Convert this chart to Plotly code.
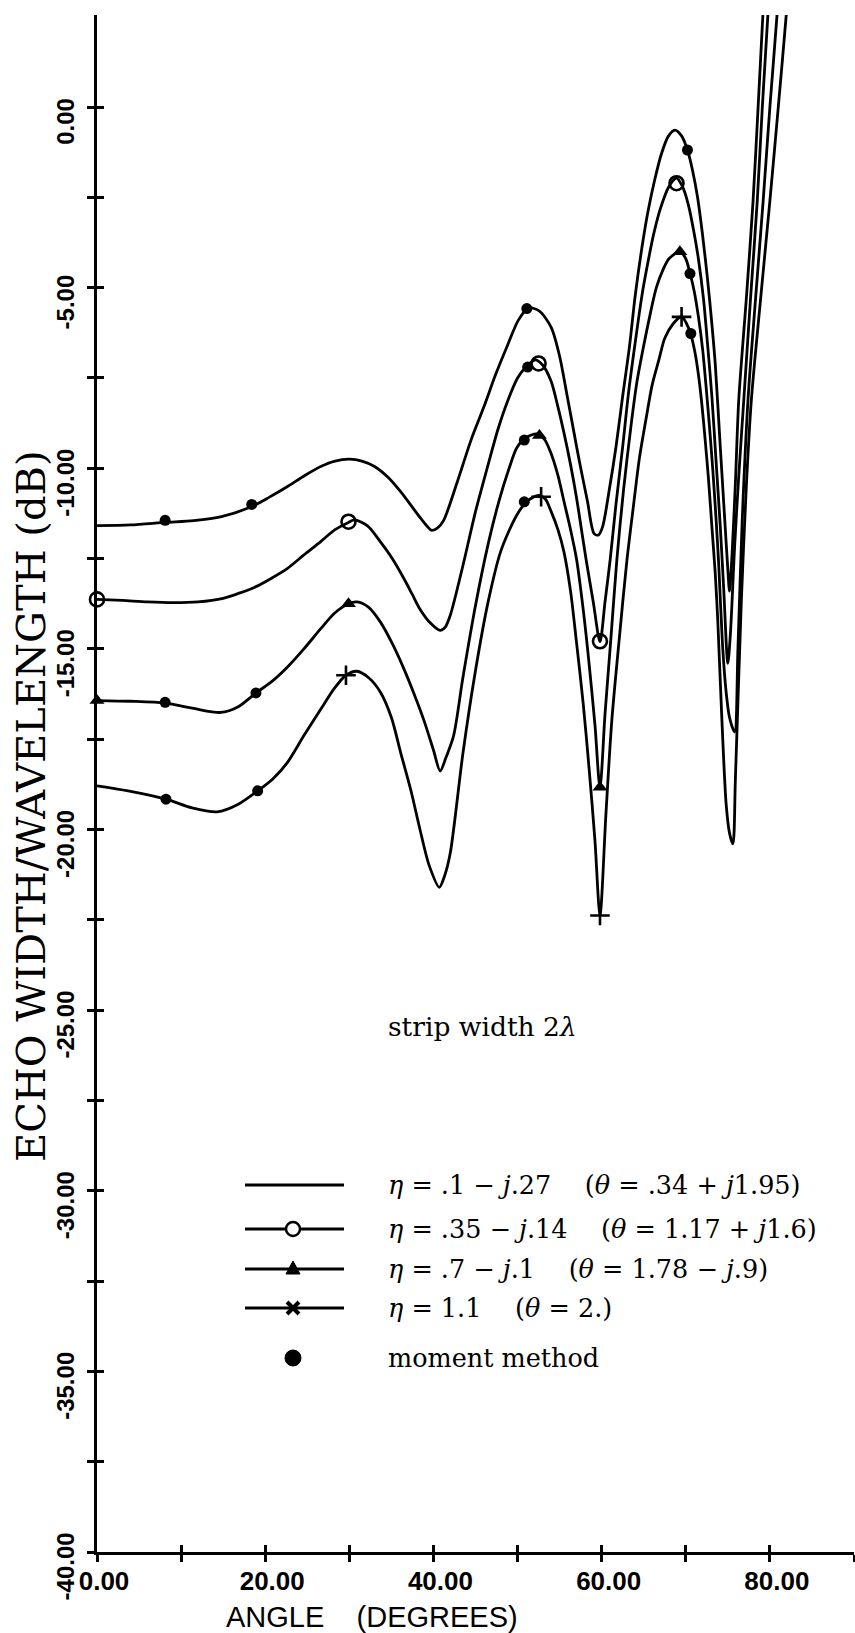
import plotly.graph_objects as go

# ---------------- data (angle in degrees, echo width in dB) ----------------
c1_deg = [0, 4, 8.1, 11.5, 14.8, 18.4, 20.5, 22.7, 24.7, 26.6, 28.3, 30, 31.5, 33, 34.6, 36.1, 37.4,
          38.5, 39.3, 39.8, 40.5, 41.2, 42.8, 44.5, 46.0, 47.4, 48.8, 50.1, 51.3, 52.6, 54.0, 55.0,
          55.9, 56.7, 57.4, 58.3, 59.1, 59.6, 60.1, 60.9, 61.7, 62.5, 63.3, 64.0, 64.8, 65.5, 66.3,
          67.1, 67.9, 68.7, 69.5, 70.2, 70.8, 71.4, 72.0, 72.6, 73.1, 73.5, 74.1, 74.6, 75.0, 75.2,
          75.5, 75.9, 76.3, 77.2, 78.0, 78.6, 79.2, 79.6]
c1_db = [-11.59, -11.57, -11.5, -11.45, -11.34, -11.06, -10.8, -10.5, -10.2, -9.95, -9.8, -9.75, -9.8,
         -9.95, -10.25, -10.65, -11.05, -11.39, -11.62, -11.72, -11.65, -11.45, -10.4, -9.2, -8.3, -7.4,
         -6.6, -5.9, -5.56, -5.65, -6.1, -6.9, -8.0, -9.0, -9.87, -10.9, -11.81, -11.85, -11.63, -10.6,
         -9.41, -8.0, -6.64, -5.2, -3.87, -2.9, -2.02, -1.3, -0.82, -0.64, -0.8, -1.19, -1.75, -2.5,
         -3.55, -4.8, -6.0, -7.1, -9.4, -11.3, -12.8, -13.4, -12.4, -10.4, -8.1, -5.3, -2.6, 0.0, 2.7, 4.5]

c2_deg = [0, 3, 6, 9, 12, 15, 17, 18.7, 20.7, 22.65, 24.6, 26.6, 28.3, 29.9, 30.6, 32.2, 33.7, 35.1,
          36.5, 37.5, 38.4, 39.7, 40.8, 41.4, 42.0, 43.5, 45.0, 46.5, 47.7, 48.8, 50.0, 51.0, 52.1,
          53.0, 54.0, 54.8, 55.5, 56.3, 57.0, 57.6, 58.2, 59.0, 59.8, 60.4, 61.0, 61.7, 62.5, 63.2,
          64.0, 64.8, 65.5, 66.2, 67.0, 68.0, 68.9, 69.6, 70.3, 71.0, 71.5, 72.1, 72.6, 73.1, 73.6,
          74.1, 74.5, 75.0, 75.3, 75.8, 76.3, 76.9, 77.7, 78.5, 79.1, 79.8, 80.2]
c2_db = [-13.63, -13.66, -13.7, -13.72, -13.7, -13.6, -13.45, -13.3, -13.05, -12.77, -12.4, -12.03,
         -11.7, -11.5, -11.43, -11.6, -12.04, -12.5, -13.06, -13.5, -13.9, -14.3, -14.49, -14.4, -14.07,
         -12.7, -11.2, -9.9, -8.9, -8.15, -7.5, -7.2, -7.0, -7.15, -7.6, -8.3, -9.0, -9.9, -10.8, -11.7,
         -12.6, -13.7, -14.8, -13.7, -12.55, -11.0, -9.4, -7.9, -6.5, -5.2, -4.3, -3.5, -2.8, -2.2,
         -1.97, -2.2, -2.7, -3.5, -4.2, -5.3, -6.6, -8.0, -9.8, -11.6, -13.3, -15.4, -14.6, -12.2,
         -10.2, -8.1, -5.3, -2.6, 0.0, 2.7, 4.5]

c3_deg = [0, 4, 8.1, 11.5, 14.7, 16.8, 18.9, 20.8, 22.65, 24.6, 26.6, 28.3, 29.9, 30.9, 32.3, 33.7,
          35.1, 36.5, 37.7, 38.9, 40.0, 40.8, 41.5, 42.4, 43.5, 45.0, 46.5, 47.8, 49.0, 49.9, 51.0,
          52.3, 53.2, 54.0, 54.8, 55.5, 56.3, 57.0, 57.8, 58.5, 59.2, 59.8, 60.4, 61.1, 61.8, 62.6,
          63.5, 64.2, 65.0, 65.8, 66.5, 67.3, 68.0, 69.3, 70.0, 70.5, 71.0, 71.5, 72.0, 72.4, 72.8,
          73.2, 73.6, 73.9, 74.4, 74.8, 75.2, 75.8, 76.2, 76.7, 77.4, 78.3, 79.2, 80.0, 80.9, 81.4]
c3_db = [-16.43, -16.45, -16.5, -16.65, -16.76, -16.6, -16.22, -15.9, -15.5, -15.0, -14.44, -14.0,
         -13.75, -13.7, -13.85, -14.26, -14.85, -15.56, -16.25, -17.0, -17.8, -18.38, -18.0, -17.4,
         -15.8, -13.8, -12.1, -10.9, -10.0, -9.44, -9.15, -9.05, -9.2, -9.6, -10.2, -10.9, -11.7, -12.5,
         -13.9, -15.4, -17.1, -18.83, -16.8, -14.7, -12.55, -10.6, -8.8, -7.6, -6.6, -5.7, -5.0, -4.5,
         -4.2, -4.0, -4.2, -4.6, -5.1, -5.8, -6.7, -7.7, -8.8, -10.0, -11.4, -12.6, -15.0, -16.2,
         -16.9, -17.3, -15.0, -11.5, -8.1, -5.3, -2.6, 0.0, 2.7, 4.5]

c4_deg = [0, 3.7, 8.2, 11.3, 14.3, 16.8, 19.1, 20.9, 22.65, 24.6, 26.6, 28.2, 29.6, 30.9, 32.3, 33.7,
          35.0, 36.1, 37.3, 38.4, 39.5, 40.7, 41.3, 42.0, 43.5, 45.0, 46.5, 48.0, 49.9, 51.2, 52.5,
          53.3, 54.0, 54.8, 55.5, 56.3, 57.0, 57.8, 58.5, 59.2, 59.8, 60.5, 61.2, 62.1, 63.0, 63.8,
          64.5, 65.3, 66.0, 66.8, 67.5, 68.5, 69.5, 70.1, 70.6, 71.1, 71.5, 71.9, 72.3, 72.7, 73.1,
          73.5, 73.8, 74.3, 74.8, 75.2, 75.6, 75.9, 76.6, 77.2, 77.8, 78.9, 80.0, 81.0, 82.0, 82.6]
c4_db = [-18.79, -18.93, -19.16, -19.4, -19.51, -19.3, -18.93, -18.6, -18.14, -17.4, -16.67, -16.1,
         -15.73, -15.62, -15.8, -16.2, -16.9, -17.87, -18.9, -20.0, -21.0, -21.6, -21.3, -20.65,
         -17.9, -15.6, -13.7, -12.3, -11.3, -10.9, -10.75, -10.85, -11.2, -11.7, -12.3, -13.4, -14.8,
         -16.5, -18.3, -20.3, -22.38, -19.6, -17.0, -14.7, -12.55, -11.0, -9.7, -8.6, -7.7, -7.0, -6.4,
         -6.0, -5.8, -6.0, -6.3, -6.8, -7.4, -8.2, -9.2, -10.3, -11.6, -12.9, -14.2, -17.0, -19.3,
         -20.1, -20.4, -18.6, -13.7, -10.5, -8.1, -5.3, -2.6, 0.0, 2.7, 4.5]

# symbols placed on the curves
c2_mk_deg = [0, 29.9, 52.5, 59.8, 68.9]
c2_mk_db = [-13.63, -11.48, -7.1, -14.79, -2.11]
c3_mk_deg = [0, 29.9, 52.6, 59.8, 69.3]
c3_mk_db = [-16.43, -13.75, -9.09, -18.83, -4.01]
c4_mk_deg = [29.6, 52.8, 59.8, 69.5]
c4_mk_db = [-15.73, -10.79, -22.38, -5.81]

# moment method results
mm_deg = [8.1, 18.4, 51.1, 70.2, 51.2, 8.1, 18.9, 50.8, 70.5, 8.2, 19.1, 50.8, 70.6]
mm_db = [-11.44, -11.0, -5.58, -1.19, -7.2, -16.48, -16.22, -9.22, -4.61, -19.16, -18.93, -10.93, -6.27]

x_tickvals = [0, 10, 20, 30, 40, 50, 60, 70, 80, 90]
x_ticktext = ['0.00', '', '20.00', '', '40.00', '', '60.00', '', '80.00', '']
y_tickvals = [0, -2.5, -5, -7.5, -10, -12.5, -15, -17.5, -20, -22.5, -25, -27.5, -30, -32.5, -35,
              -37.5, -40]
y_ticktext = ['0.00', '', '-5.00', '', '-10.00', '', '-15.00', '', '-20.00', '', '-25.00', '',
              '-30.00', '', '-35.00', '', '-40.00']

legend_labels = [
    '<i>η</i> = .1 − <i>j</i>.27\u2003 (<i>θ</i> = .34 + <i>j</i>1.95)',
    '<i>η</i> = .35 − <i>j</i>.14\u2003 (<i>θ</i> = 1.17 + <i>j</i>1.6)',
    '<i>η</i> = .7 − <i>j</i>.1\u2003 (<i>θ</i> = 1.78 − <i>j</i>.9)',
    '<i>η</i> = 1.1\u2003 (<i>θ</i> = 2.)',
    'moment method',
]

# ---------------- layout geometry ----------------
W, H = 855, 1633
ML, MR, MT, MB = 97, 1, 15, 81
PW, PH = W - ML - MR, H - MT - MB
X_RANGE = [0, 90]
Y_RANGE = [-40, 92 / 36.125]


def px(x):
    return (x - ML) / PW


def py(y):
    return (H - MB - y) / PH


SANS = 'Liberation Sans, Arial, sans-serif'
SERIF = 'DejaVu Serif, Liberation Serif, serif'

fig = go.Figure()

for d, v in [(c1_deg, c1_db), (c2_deg, c2_db), (c3_deg, c3_db), (c4_deg, c4_db)]:
    fig.add_trace(go.Scatter(x=d, y=v, mode='lines', showlegend=False, hoverinfo='skip',
                             line=dict(color='black', width=2.8, shape='spline', smoothing=0.8)))

fig.add_trace(go.Scatter(x=c2_mk_deg, y=c2_mk_db, mode='markers', showlegend=False, cliponaxis=False,
                         marker=dict(symbol='circle-open', size=14, color='black',
                                     line=dict(width=2.6, color='black'))))
fig.add_trace(go.Scatter(x=c3_mk_deg, y=c3_mk_db, mode='markers', showlegend=False, cliponaxis=False,
                         marker=dict(symbol='triangle-up', size=13, color='black')))
fig.add_trace(go.Scatter(x=c4_mk_deg, y=c4_mk_db, mode='markers', showlegend=False, cliponaxis=False,
                         marker=dict(symbol='cross-thin-open', size=14, color='black',
                                     line=dict(width=2.6, color='black'))))
fig.add_trace(go.Scatter(x=mm_deg, y=mm_db, mode='markers', showlegend=False, cliponaxis=False,
                         marker=dict(symbol='circle', size=11, color='black')))

# overlay axes carrying the inward half of the crossing tick marks
fig.add_trace(go.Scatter(x=c1_deg, y=c1_db, xaxis='x2', yaxis='y2', mode='lines', opacity=0,
                         showlegend=False, hoverinfo='skip'))

axis_common = dict(showgrid=False, zeroline=False, ticklen=7, tickwidth=2.5, tickcolor='black')
fig.update_layout(
    width=W, height=H,
    margin=dict(l=ML, r=MR, t=MT, b=MB, pad=0),
    paper_bgcolor='white', plot_bgcolor='white',
    showlegend=False,
    xaxis=dict(range=X_RANGE, tickmode='array', tickvals=x_tickvals, ticktext=x_ticktext,
               ticks='outside', showline=True, linewidth=3, linecolor='black',
               ticklabelstandoff=-3, ticklabelshift=7,
               tickfont=dict(family=SANS, size=26, color='black', weight='bold'),
               **axis_common),
    yaxis=dict(range=Y_RANGE, tickmode='array', tickvals=y_tickvals, ticktext=y_ticktext,
               ticks='outside', showline=True, linewidth=3, linecolor='black', tickangle=-90,
               ticklabelstandoff=3, ticklabelshift=18,
               tickfont=dict(family=SANS, size=24, color='black', weight='bold'),
               **axis_common),
    xaxis2=dict(range=X_RANGE, overlaying='x', anchor='y2', tickmode='array', tickvals=x_tickvals,
                ticks='inside', showticklabels=False, showline=False, **axis_common),
    yaxis2=dict(range=Y_RANGE, overlaying='y', anchor='x2', tickmode='array', tickvals=y_tickvals,
                ticks='inside', showticklabels=False, showline=False, **axis_common),
)

annotations = [
    dict(text='ANGLE\u00a0\u00a0\u00a0\u00a0(DEGREES)', x=px(372), y=py(1617), xref='paper',
         yref='paper', showarrow=False, xanchor='center', yanchor='middle',
         font=dict(family=SANS, size=29, color='black')),
    dict(text='ECHO WIDTH/WAVELENGTH (dB)', x=px(31), y=py(806), xref='paper', yref='paper',
         showarrow=False, textangle=-90, xanchor='center', yanchor='middle',
         font=dict(family=SERIF, size=40, color='black')),
    dict(text='strip width 2<i>λ</i>', x=px(482), y=py(1026), xref='paper', yref='paper',
         showarrow=False, xanchor='center', yanchor='middle',
         font=dict(family=SERIF, size=26.5, color='black')),
]

# legend (drawn as a key block inside the plot area)
row_y = [1185, 1229, 1269, 1308, 1358]
shapes = []
for i, lab in enumerate(legend_labels):
    yy = row_y[i]
    annotations.append(dict(text=lab, x=px(386), y=py(yy), xref='paper', yref='paper', showarrow=False,
                            xanchor='left', yanchor='middle',
                            font=dict(family=SERIF, size=25.5, color='black')))
    if i < 4:
        shapes.append(dict(type='line', xref='paper', yref='paper', x0=px(245), x1=px(344),
                           y0=py(yy), y1=py(yy), line=dict(color='black', width=3)))
cx = 293
# open circle
shapes.append(dict(type='circle', xref='paper', yref='paper', x0=px(cx - 7), x1=px(cx + 7),
                   y0=py(row_y[1] - 7), y1=py(row_y[1] + 7), fillcolor='white',
                   line=dict(color='black', width=2.5)))
# filled triangle
ty = row_y[2]
shapes.append(dict(type='path', xref='paper', yref='paper',
                   path=f'M {px(cx-7)} {py(ty+5)} L {px(cx+7)} {py(ty+5)} L {px(cx)} {py(ty-8)} Z',
                   fillcolor='black', line=dict(color='black', width=1)))
# bold x
xy = row_y[3]
shapes.append(dict(type='path', xref='paper', yref='paper',
                   path=f'M {px(cx-6)} {py(xy-6)} L {px(cx+6)} {py(xy+6)} M {px(cx-6)} {py(xy+6)} L {px(cx+6)} {py(xy-6)}',
                   line=dict(color='black', width=4)))
# filled dot
dy = row_y[4]
shapes.append(dict(type='circle', xref='paper', yref='paper', x0=px(cx - 8), x1=px(cx + 8),
                   y0=py(dy - 8), y1=py(dy + 8), fillcolor='black', line=dict(color='black', width=1)))

fig.update_layout(annotations=annotations, shapes=shapes)
fig.write_html('out.html')
